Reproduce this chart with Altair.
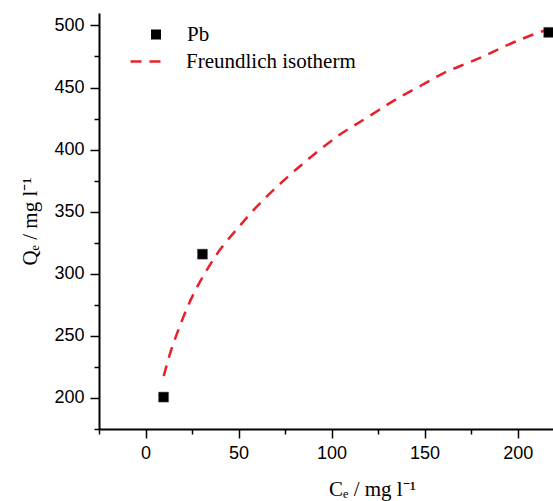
import altair as alt
import pandas as pd

# Measured points (Pb)
pb_ce = [9.7, 30.6, 216.7]
pb_qe = [200.7, 315.8, 494.4]

# Freundlich isotherm curve
fit_ce = [9.8, 13.4, 17.4, 21.5, 26.9, 33.2, 40.3, 49.3, 58.2, 69.0, 79.7, 91.4,
          103.9, 112.9, 124.6, 135.3, 147.8, 159.5, 171.1, 181.8, 192.6, 203.4, 213.3, 216.5]
fit_qe = [217.7, 237.8, 253.9, 270.0, 287.7, 303.8, 320.9, 336.0, 352.0, 368.0, 382.6, 397.3,
          412.0, 420.0, 431.0, 441.5, 451.0, 461.7, 468.4, 475.0, 483.0, 489.9, 495.5, 496.5]

x_major = [0, 50, 100, 150, 200]
x_minor = [-25, 25, 75, 125, 175]
y_major = [200, 250, 300, 350, 400, 450, 500]
y_minor = [175, 225, 275, 325, 375, 425, 475]

pts = pd.DataFrame({"ce": pb_ce, "qe": pb_qe, "pt_series": ["Pb"] * len(pb_ce)})
fit = pd.DataFrame({"ce": fit_ce, "qe": fit_qe,
                    "ln_series": ["Freundlich isotherm"] * len(fit_ce)})

RED = "#e8202a"
SERIF = "Liberation Serif"
SANS = "Liberation Sans"

x_scale = alt.Scale(domain=[-25, 219], nice=False, zero=False)
y_scale = alt.Scale(domain=[175, 510], nice=False, zero=False)

line = alt.Chart(fit).mark_line(
    color=RED, strokeWidth=2.5, interpolate="basis", clip=True
).encode(
    x=alt.X(
        "ce:Q",
        scale=x_scale,
        axis=alt.Axis(
            orient="bottom",
            values=x_major,
            tickSize=9,
            title="Cₑ / mg l⁻¹",
            titleX=273,
            titleY=66,
            titleAlign="center",
            titleBaseline="alphabetic",
        ),
    ),
    y=alt.Y(
        "qe:Q",
        scale=y_scale,
        axis=alt.Axis(
            orient="left",
            values=y_major,
            tickSize=9,
            title="Qₑ / mg l⁻¹",
            titleX=-63,
            titleY=208,
            titleAngle=270,
            titleAlign="center",
            titleBaseline="alphabetic",
        ),
    ),
    strokeDash=alt.StrokeDash(
        "ln_series:N",
        scale=alt.Scale(domain=["Freundlich isotherm"], range=[[11, 8]]),
        legend=alt.Legend(
            title=None,
            orient="none",
            legendX=30,
            legendY=31,
            padding=0,
            symbolType="stroke",
            symbolSize=1024,
            symbolStrokeColor=RED,
            symbolStrokeWidth=2.5,
            labelFont=SERIF,
            labelFontSize=21,
            labelColor="black",
            labelOffset=22,
            labelLimit=0,
        ),
    ),
)

points = alt.Chart(pts).mark_point(
    filled=True, color="black", size=100, opacity=1, stroke="#555", strokeWidth=0.5
).encode(
    x=alt.X("ce:Q", axis=None),
    y=alt.Y("qe:Q", axis=None),
    shape=alt.Shape(
        "pt_series:N",
        scale=alt.Scale(domain=["Pb"], range=["square"]),
        legend=alt.Legend(
            title=None,
            orient="none",
            legendX=46.5,
            legendY=11,
            padding=0,
            symbolSize=100,
            symbolFillColor="black",
            symbolStrokeWidth=0,
            labelFont=SERIF,
            labelFontSize=21,
            labelColor="black",
            labelOffset=20.5,
            labelLimit=0,
        ),
    ),
)

minor = alt.Chart(pts).mark_point(opacity=0).encode(
    x=alt.X(
        "ce:Q",
        axis=alt.Axis(orient="bottom", values=x_minor, tickSize=5, labels=False,
                      domain=False, title=None),
    ),
    y=alt.Y(
        "qe:Q",
        axis=alt.Axis(orient="left", values=y_minor, tickSize=5, labels=False,
                      domain=False, title=None),
    ),
)

chart = (
    alt.layer(minor, line, points)
    .resolve_axis(x="independent", y="independent")
    .resolve_legend(shape="independent", strokeDash="independent")
    .properties(
        width=454,
        height=416,
        autosize=alt.AutoSizeParams(type="none"),
        padding={"left": 99, "top": 13, "right": 0, "bottom": 72},
        background="white",
    )
    .configure_view(stroke=None)
    .configure_legend(labelFont=SERIF, labelFontSize=21, labelLimit=0)
    .configure_axis(
        grid=False,
        domainColor="black",
        domainWidth=2,
        tickColor="black",
        tickWidth=1.5,
        labelFont=SANS,
        labelFontSize=18,
        labelColor="black",
        labelPadding=6,
        titleFont=SERIF,
        titleFontSize=21,
        titleFontWeight="normal",
        titleColor="black",
    )
)

chart.save("out.html", embed_options={"renderer": "svg", "actions": False})
